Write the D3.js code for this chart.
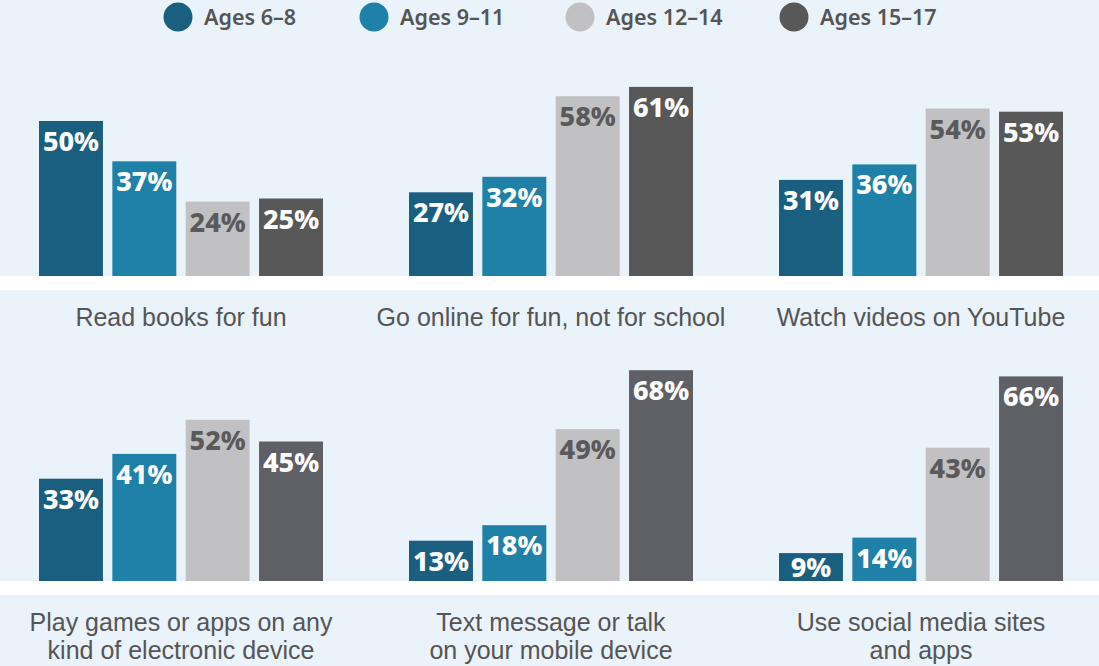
<!DOCTYPE html>
<html>
<head>
<meta charset="utf-8">
<script src="https://cdn.jsdelivr.net/npm/d3@7"></script>
<style>
  body { margin: 0; background: #eaf2fa; }
  svg { display: block; }
</style>
</head>
<body>
<div id="chart"></div>
<script>
// age groups (legend) and activities
var ages = ["Ages 6\u20138", "Ages 9\u201311", "Ages 12\u201314", "Ages 15\u201317"];
var activities = [
  ["Read books for fun"],
  ["Go online for fun, not for school"],
  ["Watch videos on YouTube"],
  ["Play games or apps on any", "kind of electronic device"],
  ["Text message or talk", "on your mobile device"],
  ["Use social media sites", "and apps"]
];
// percent per activity, one list per age group
var ages6to8   = [50, 27, 31, 33, 13, 9];
var ages9to11  = [37, 32, 36, 41, 18, 14];
var ages12to14 = [24, 58, 54, 52, 49, 43];
var ages15to17 = [25, 61, 53, 45, 68, 66];
var series = [ages6to8, ages9to11, ages12to14, ages15to17];

var width = 1099, height = 666;
var colors = ["#1b5f80", "#1f81a8", "#c1c1c3", "#585858"];
var darkBottom = "#5e6066";
var rowBase = [276, 581];
var font = "'Noto Sans', sans-serif";
// tighter line metrics for the 2-line labels
var labelFont = "'Liberation Sans', Arial, sans-serif";

var svg = d3.select("#chart").append("svg")
    .attr("width", width)
    .attr("height", height);

svg.append("rect")
    .attr("width", width).attr("height", height)
    .attr("fill", "#eaf2fa");

// panel position (3 per row) and bar position inside panel
var x0 = d3.scaleBand().domain([0, 1, 2]).range([39, 1149]);
var x1 = d3.scaleBand().domain(ages).range([0, 284]).paddingInner(0.128);
// 100% = 310px
var y = d3.scaleLinear().domain([0, 100]).range([0, 310]);

// white strips under each row
rowBase.forEach(function(b) {
  svg.append("rect")
      .attr("x", 0).attr("y", b).attr("width", width).attr("height", 14)
      .attr("fill", "#ffffff");
});

// legend
var legend = svg.append("g");
var legendX = [178, 374, 580, 794];
ages.forEach(function(a, i) {
  legend.append("circle")
      .attr("cx", legendX[i]).attr("cy", 17).attr("r", 14.5)
      .attr("fill", colors[i]);
  legend.append("text")
      .attr("x", legendX[i] + 26).attr("y", 25)
      .style("font-family", font)
      .style("font-size", "21.5px")
      .style("font-weight", "600")
      .attr("fill", "#555555")
      .text(a);
});

activities.forEach(function(lines, k) {
  var row = Math.floor(k / 3), col = k % 3;
  var base = rowBase[row];
  var g = svg.append("g")
      .attr("transform", "translate(" + x0(col) + ",0)");

  ages.forEach(function(a, i) {
    var v = series[i][k];
    var top = base - y(v);
    var c = colors[i];
    if (i == 3 && row == 1) c = darkBottom;
    g.append("rect")
        .attr("x", x1(a)).attr("y", top)
        .attr("width", x1.bandwidth()).attr("height", y(v))
        .attr("fill", c);
    g.append("text")
        .attr("x", x1(a) + x1.bandwidth() / 2)
        .attr("y", Math.min(top + 30, base - 4))
        .attr("text-anchor", "middle")
        .style("font-family", font)
        .style("font-size", "27px")
        .style("font-weight", "800")
        .attr("fill", i == 2 ? "#5a5a5c" : "#ffffff")
        .text(v + "%");
  });

  // category label, wrapped lines as tspans
  var label = g.append("text")
      .attr("x", 142)
      .attr("y", base + 50)
      .attr("text-anchor", "middle")
      .style("font-family", labelFont)
      .style("font-size", "25px")
      .attr("fill", "#555555");
  lines.forEach(function(t, j) {
    label.append("tspan")
        .attr("x", 142)
        .attr("dy", j == 0 ? 0 : 28)
        .text(t);
  });
});
</script>
</body>
</html>
